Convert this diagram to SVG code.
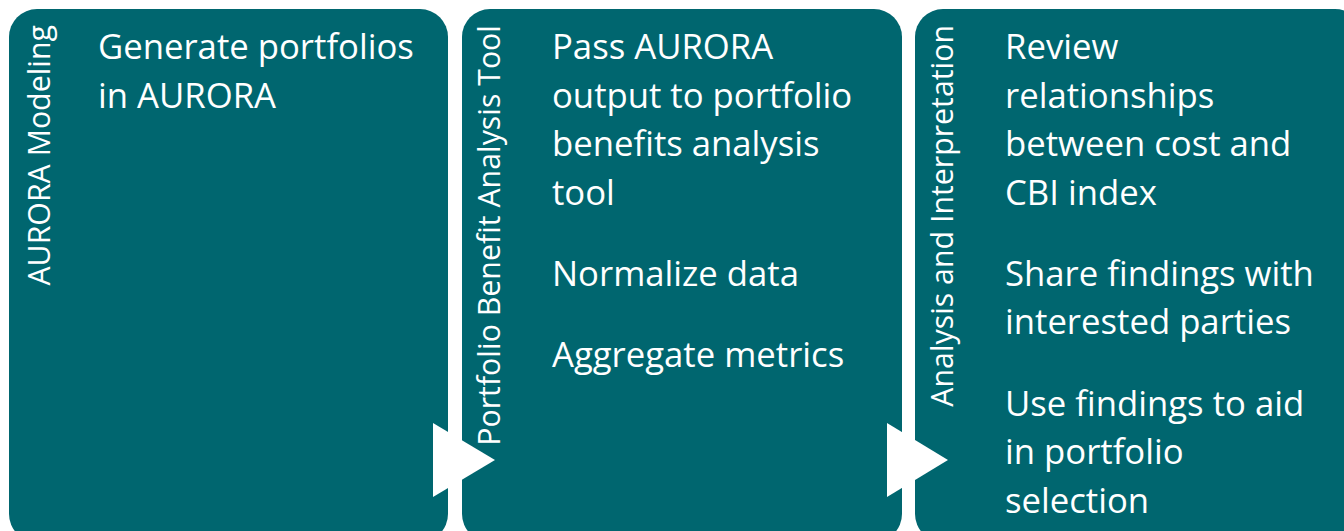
<svg xmlns="http://www.w3.org/2000/svg" width="1344" height="531" viewBox="0 0 1344 531">
  <style>
    .box { fill: #00666F; }
    .body { font-family: "Open Sans", "Liberation Sans", sans-serif; font-size: 34.7px; fill: #FFFFFF; }
    .side { font-family: "Open Sans", "Liberation Sans", sans-serif; font-size: 30.3px; fill: #FFFFFF; text-anchor: end; }
    .arrow { fill: #FFFFFF; }
  </style>
  <rect x="0" y="0" width="1344" height="531" fill="#FFFFFF"/>
  <g id="node-aurora-modeling">
    <rect class="box" x="9" y="9" width="439" height="533" rx="28" ry="28"/>
    <text class="side" transform="translate(50,25) rotate(-90)">AURORA Modeling</text>
    <text class="body" x="98" y="59">Generate portfolios</text>
    <text class="body" x="98" y="107.5">in AURORA</text>
  </g>
  <g id="node-portfolio-benefit">
    <rect class="box" x="462" y="9" width="440" height="533" rx="28" ry="28"/>
    <text class="side" transform="translate(500,25) rotate(-90)">Portfolio Benefit Analysis Tool</text>
    <text class="body" x="552" y="59">Pass AURORA</text>
    <text class="body" x="552" y="107.5">output to portfolio</text>
    <text class="body" x="552" y="156">benefits analysis</text>
    <text class="body" x="552" y="204.5">tool</text>
    <text class="body" x="552" y="286">Normalize data</text>
    <text class="body" x="552" y="367">Aggregate metrics</text>
  </g>
  <g id="node-analysis">
    <rect class="box" x="915" y="9" width="448" height="533" rx="28" ry="28"/>
    <text class="side" transform="translate(953,25) rotate(-90)">Analysis and Interpretation</text>
    <text class="body" x="1005" y="59">Review</text>
    <text class="body" x="1005" y="107.5">relationships</text>
    <text class="body" x="1005" y="156">between cost and</text>
    <text class="body" x="1005" y="204.5">CBI index</text>
    <text class="body" x="1005" y="285.5">Share findings with</text>
    <text class="body" x="1005" y="334">interested parties</text>
    <text class="body" x="1005" y="415.5">Use findings to aid</text>
    <text class="body" x="1005" y="464">in portfolio</text>
    <text class="body" x="1005" y="512.5">selection</text>
  </g>
  <g id="connectors">
    <polygon class="arrow" points="433,423 433,497 495,460"/>
    <polygon class="arrow" points="887,423 887,497 948,460"/>
  </g>
</svg>
